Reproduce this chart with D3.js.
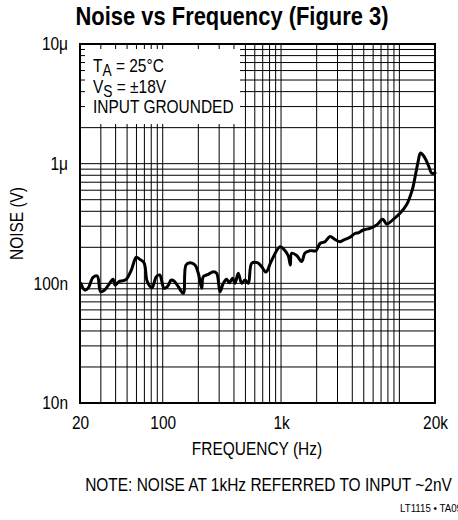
<!DOCTYPE html>
<html>
<head>
<meta charset="utf-8">
<script src="https://cdn.jsdelivr.net/npm/d3@7"></script>
<style>
  html, body { margin: 0; padding: 0; background: #fff; }
  svg { display: block; }
  text { font-family: "Liberation Sans", Arial, sans-serif; fill: #000; }
</style>
</head>
<body>
<svg id="chart" width="458" height="520"></svg>
<script>
// ---- data ----
const frequencyHz = [20.3, 21.9, 23.4, 25.8, 28.0, 29.9, 32.3, 35.6, 38.0, 39.7, 42.5, 46.2, 49.2, 54.3, 59.8, 63.9, 69.5, 74.1, 81.2, 88.3,
  94.3, 102.6, 109.4, 118.2, 124.6, 135.4, 149.3, 157.3, 170.1, 187.5, 199.9, 213.7, 220.3, 242.8, 267.7, 286, 305, 325, 347, 365,
  390, 408, 435, 465, 496, 529, 565, 630, 686, 746, 823, 980, 1069, 1152, 1198, 1230, 1356, 1495, 1594, 1756,
  1974, 2134, 2352, 2594, 2858, 3150, 3472, 3826, 4217, 4498, 4956, 5646, 6432, 7230, 7816, 8888,
  10122, 11536, 12298, 13038, 13824, 14374, 15088, 15842, 16790, 17802, 18760, 20000];
const noiseNV = [100.1, 88, 90.9, 112.3, 115.2, 85.1, 88, 100, 108.1, 96.8, 103.2, 105.2, 108.1, 129.2, 165.1, 158.8, 148.8, 103.2, 91.9, 113.6,
  117.4, 90.9, 93.7, 106.6, 104.6, 93.7, 82.5, 142.3, 148.8, 142.3, 121.3, 90.9, 113.6, 119.0, 125.1, 121.3, 85.1, 100, 108.1, 101.2,
  110.2, 100, 121.3, 100, 106.6, 100, 147.1, 148.8, 137.7, 124.3, 151.6, 202.4, 189.9, 169.2, 142.3, 178.2, 170.8, 152.2, 179.2, 187.4,
  187.4, 215.2, 222.8, 246.2, 232.4, 222.8, 233.3, 242.5, 260.9, 264.4, 279, 288.3, 307.3, 342.8, 313.3, 342.8,
  384.8, 455.8, 530, 638, 852, 1032, 1228, 1182, 1073, 938, 831, 836];
const xTickValues = [20, 100, 1000, 20000];
const xTickLabels = ["20", "100", "1k", "20k"];
const yTickValues = [1e-8, 1e-7, 1e-6, 1e-5];
const yTickLabels = ["10n", "100n", "1\u03bc", "10\u03bc"];
const titleText = "Noise vs Frequency (Figure 3)";
const xTitle = "FREQUENCY (Hz)";
const yTitle = "NOISE (V)";
const noteText = "NOTE: NOISE AT 1kHz REFERRED TO INPUT ~2nV";
const codeText = "LT1115 \u2022 TA09";

// ---- layout ----
const L = 80, R = 435, T = 44, B = 403;
const SX = 0.86; // narrow-font emulation
const svg = d3.select("#chart");
const x = d3.scaleLog().domain([20, 20000]).range([L, R]);
const y = d3.scaleLog().domain([1e-8, 1e-5]).range([B, T]);

const points = frequencyHz.map((f, i) => ({ f, v: noiseNV[i] * 1e-9 }));

function label(px, py, str, size, anchor, extra) {
  const gg = svg.append("g").attr("transform", `translate(${px},${py})` + (extra || ""));
  return gg.append("text").attr("transform", `scale(${SX},1)`)
    .attr("font-size", size).attr("text-anchor", anchor || "start").text(str);
}

// grid
const g = svg.append("g");
g.selectAll(".vg").data(x.ticks()).join("line")
  .attr("x1", d => x(d)).attr("x2", d => x(d)).attr("y1", T).attr("y2", B)
  .attr("stroke", "#000").attr("stroke-width", 1);
g.selectAll(".hg").data(y.ticks()).join("line")
  .attr("x1", L).attr("x2", R).attr("y1", d => y(d)).attr("y2", d => y(d))
  .attr("stroke", "#000").attr("stroke-width", 1);

// condition box (masks grid)
const boxR = 240, boxB = 124;
svg.append("rect").attr("x", L).attr("y", T).attr("width", boxR - L).attr("height", boxB - T).attr("fill", "#fff");
svg.append("g").selectAll("line").data(x.ticks().filter(d => x(d) < boxR)).join("line")
  .attr("x1", d => x(d)).attr("x2", d => x(d)).attr("y1", T).attr("y2", T + 5)
  .attr("stroke", "#000").attr("stroke-width", 1);
svg.append("g").selectAll("line").data(y.ticks().filter(d => y(d) < boxB)).join("line")
  .attr("x1", L).attr("x2", L + 5).attr("y1", d => y(d)).attr("y2", d => y(d))
  .attr("stroke", "#000").attr("stroke-width", 1);

// border
svg.append("rect").attr("x", L).attr("y", T).attr("width", R - L).attr("height", B - T)
  .attr("fill", "none").attr("stroke", "#000").attr("stroke-width", 2);

// curve
const line = d3.line().x(d => x(d.f)).y(d => y(d.v)).curve(d3.curveCatmullRom.alpha(0.5));
svg.append("path").datum(points).attr("d", line)
  .attr("fill", "none").attr("stroke", "#000").attr("stroke-width", 3)
  .attr("stroke-linejoin", "round").attr("stroke-linecap", "round");

// axes
const xAxis = d3.axisBottom(x).tickValues(xTickValues).tickFormat((d, i) => xTickLabels[i]).tickSize(0).tickPadding(13);
const xa = svg.append("g").attr("transform", `translate(0,${B})`).call(xAxis);
xa.select(".domain").remove();
xa.selectAll("text").attr("font-size", 18).attr("font-family", null).attr("transform", `scale(${SX},1)`);

const yAxis = d3.axisLeft(y).tickValues(yTickValues).tickFormat((d, i) => yTickLabels[i]).tickSize(0).tickPadding(12);
const ya = svg.append("g").attr("transform", `translate(${L},0)`).call(yAxis);
ya.select(".domain").remove();
ya.selectAll("text").attr("font-size", 18).attr("font-family", null)
  .attr("x", -12 / SX).attr("transform", `scale(${SX},1)`);

// titles
label(232, 25, titleText, 25.5, "middle").attr("font-weight", "bold");
label(257, 455, xTitle, 18, "middle");
label(23, (T + B) / 2, yTitle, 18, "middle", " rotate(-90)");
label(268.5, 491, noteText, 18, "middle");
svg.append("text").attr("x", 400).attr("y", 512).attr("font-size", 10)
  .attr("textLength", 62).attr("lengthAdjust", "spacingAndGlyphs").text(codeText);

// condition text
const c1 = label(93, 71.5, "", 18, "start");
c1.append("tspan").text("T");
c1.append("tspan").attr("dy", 4).attr("font-size", 16).text("A");
c1.append("tspan").attr("dy", -4).text(" = 25\u00b0C");
const c2 = label(93, 93, "", 18, "start");
c2.append("tspan").text("V");
c2.append("tspan").attr("dy", 4).attr("font-size", 16).text("S");
c2.append("tspan").attr("dy", -4).text(" = \u00b118V");
label(93, 113, "INPUT GROUNDED", 18, "start");
</script>
</body>
</html>
